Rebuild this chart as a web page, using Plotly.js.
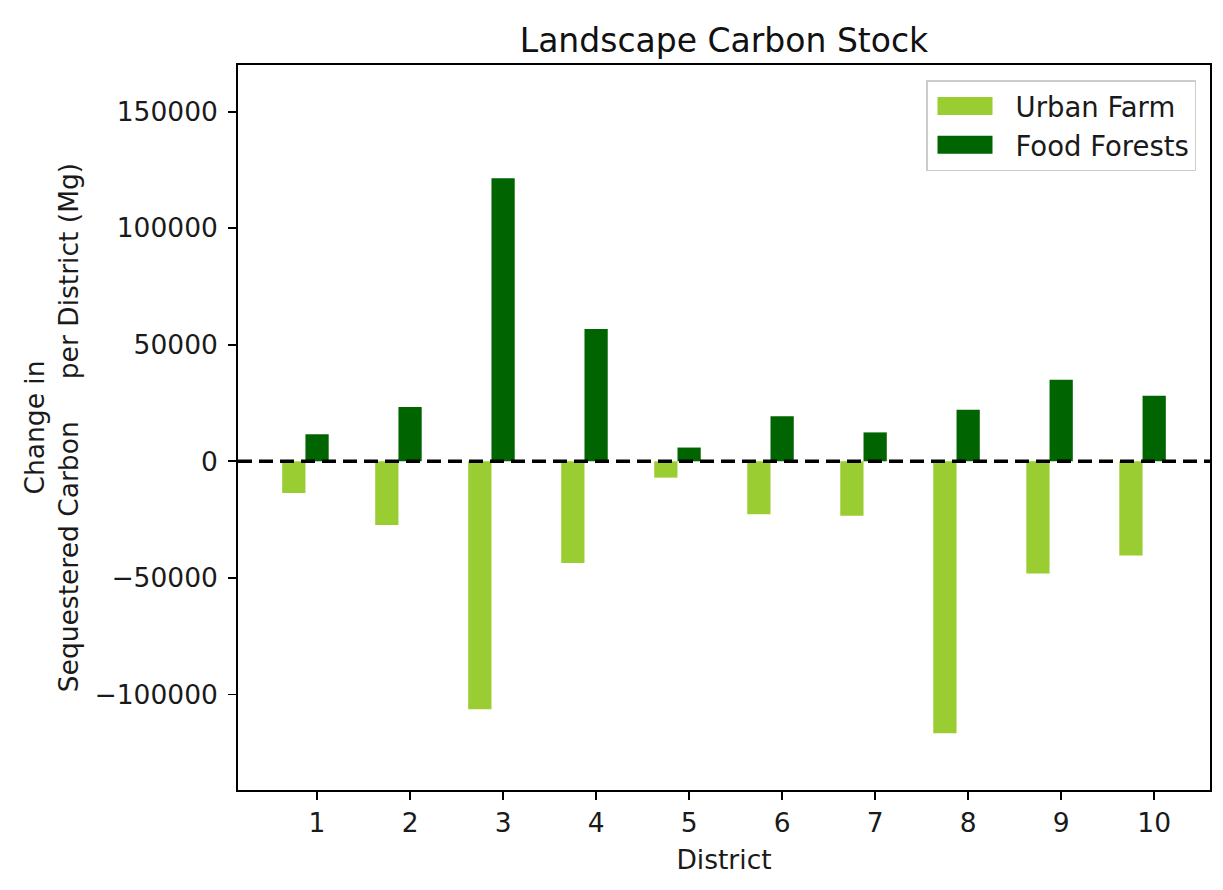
<!DOCTYPE html>
<html>
<head>
<meta charset="utf-8">
<script src="https://cdn.plot.ly/plotly-3.0.1.min.js"></script>
<style>html,body{margin:0;padding:0;background:#fff;}</style>
</head>
<body>
<div id="chart" style="width:1223px;height:890px;"></div>
<script>
const districts = [1, 2, 3, 4, 5, 6, 7, 8, 9, 10];
const urbanFarm = [-13600, -27300, -106400, -43600, -7000, -22700, -23400, -116700, -48100, -40400];
const foodForests = [11600, 23300, 121400, 56700, 5900, 19300, 12400, 22100, 35000, 28100];
const yTickVals = [-100000, -50000, 0, 50000, 100000, 150000];
const yTickText = ['\u2212100000', '\u221250000', '0', '50000', '100000', '150000'];
const xTickText = ['1', '2', '3', '4', '5', '6', '7', '8', '9', '10'];

const FONT = 'DejaVu Sans, sans-serif';

const traces = [
  {
    type: 'bar', name: 'Urban Farm', x: districts, y: urbanFarm,
    width: 0.25, offset: -0.375,
    marker: {color: '#9acd32', line: {width: 0}}
  },
  {
    type: 'bar', name: 'Food Forests', x: districts, y: foodForests,
    width: 0.25, offset: -0.125,
    marker: {color: '#006400', line: {width: 0}}
  }
];

const layout = {
  width: 1223, height: 890,
  paper_bgcolor: '#fff', plot_bgcolor: '#fff',
  margin: {l: 238, r: 13, t: 65, b: 100, pad: 0},
  barmode: 'overlay',
  font: {family: FONT, size: 26.5, color: '#1a1a1a'},
  title: {
    text: 'Landscape Carbon Stock',
    font: {family: FONT, size: 33, color: '#111'},
    xref: 'paper', x: 0.5, xanchor: 'center',
    yref: 'container', y: 0.955, yanchor: 'middle'
  },
  xaxis: {
    range: [0.15, 10.6],
    tickvals: districts, ticktext: xTickText,
    ticks: 'outside', ticklen: 8, tickwidth: 1.8, tickcolor: '#000',
    showline: true, mirror: true, linecolor: '#000', linewidth: 1.8,
    showgrid: false, zeroline: false,
    tickfont: {family: FONT, size: 26.5, color: '#1a1a1a'},
    title: {text: 'District', font: {family: FONT, size: 26.5, color: '#1a1a1a'}, standoff: 14},
    automargin: false
  },
  yaxis: {
    range: [-141000, 170000],
    tickvals: yTickVals, ticktext: yTickText,
    ticks: 'outside', ticklen: 8, tickwidth: 1.8, tickcolor: '#000',
    ticklabelstandoff: 5,
    showline: true, mirror: true, linecolor: '#000', linewidth: 1.8,
    showgrid: false, zeroline: false,
    tickfont: {family: FONT, size: 26.5, color: '#1a1a1a'},
    title: {
      text: 'Change in<br>Sequestered Carbon\u00a0\u00a0\u00a0\u00a0\u00a0per District (Mg)',
      font: {family: FONT, size: 26.5, color: '#1a1a1a'},
      standoff: 8
    },
    automargin: false
  },
  legend: {
    x: 0.9856, y: 0.979, xanchor: 'right', yanchor: 'top',
    bgcolor: 'rgba(255,255,255,0.8)', bordercolor: '#cccccc', borderwidth: 1.5,
    font: {family: FONT, size: 27.5, color: '#1a1a1a'},
    itemwidth: 78, tracegroupgap: 6
  },
  shapes: [
    {
      type: 'line', xref: 'paper', x0: 0, x1: 1, yref: 'y', y0: 0, y1: 0,
      line: {color: '#000', width: 3.5, dash: '14px,7px'}, layer: 'above'
    }
  ]
};

Plotly.newPlot('chart', traces, layout, {displayModeBar: false, staticPlot: true}).then(function (gd) {
  // widen the legend swatches to matplotlib-style patches
  gd.querySelectorAll('.legend .legendpoints path').forEach(function (p) {
    p.setAttribute('d', 'M-34,-9H21V9H-34Z');
  });
});
</script>
</body>
</html>
